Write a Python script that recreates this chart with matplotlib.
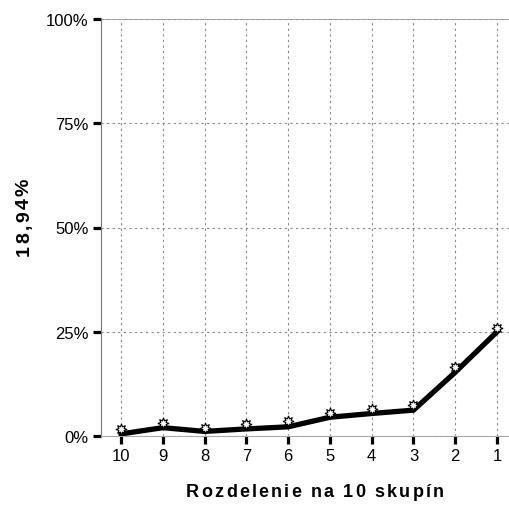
import numpy as np
import matplotlib.pyplot as plt
from matplotlib.font_manager import FontProperties

plt.rcParams['font.family'] = ['Liberation Sans', 'DejaVu Sans']

# groups (descending order as in the chart)
groups = ['10', '9', '8', '7', '6', '5', '4', '3', '2', '1']
line_vals = [0.5, 2.0, 1.1, 1.7, 2.2, 4.5, 5.4, 6.2, 15.3, 25.0]
marker_vals = [1.7, 3.2, 2.0, 2.8, 3.5, 5.6, 6.5, 7.4, 16.6, 26.0]
yticks = [0, 25, 50, 75, 100]
ytick_labels = ['0%', '25%', '50%', '75%', '100%']
xlabel = 'Rozdelenie na 10 skupín'
ylabel = '18,94%'

W, H = 510, 506
fig = plt.figure(figsize=(W / 100, H / 100), dpi=100)
ax = fig.add_axes([101 / W, 1 - 437 / H, 409 / W, 417 / H])

x = np.arange(len(groups))
ax.plot(x, line_vals, color='black', lw=3.8, solid_joinstyle='miter', zorder=3)
ax.plot(x, marker_vals, ls='none', marker=(8, 1, 0), ms=8, mfc='white',
        mec='black', mew=0.8, zorder=4)

ax.set_xlim(-0.48, 9.31)
ax.set_ylim(0, 100)
ax.set_xticks(x)
ax.set_xticklabels(groups)
ax.set_yticks(yticks)
ax.set_yticklabels(ytick_labels)

ax.grid(True, ls=(0, (2, 3)), color='#888888', lw=0.8)
ax.set_axisbelow(True)
for s in ['top', 'right']:
    ax.spines[s].set_visible(False)
ax.spines['left'].set_color('#777777')
ax.spines['bottom'].set_color('#aaaaaa')
ax.axhline(100, color='#999999', lw=1.2, zorder=1)
ax.tick_params(axis='both', length=5.8, width=2.3, color='black', labelsize=12,
               pad=3)


# bold labels with extra letter spacing, drawn char by char
def spaced_text(cx, cy, s, size, track, rotation=0):
    fp = FontProperties(family='Liberation Sans', weight='bold', size=size)
    r = fig.canvas.get_renderer()
    wl = r.get_text_width_height_descent('l', fp, ismath=False)[0]
    offs = []
    for i in range(len(s)):
        w = r.get_text_width_height_descent(s[:i] + 'l', fp, ismath=False)[0]
        offs.append(w - wl + i * track)
    total = r.get_text_width_height_descent(s, fp, ismath=False)[0] \
        + (len(s) - 1) * track
    for ch, o in zip(s, offs):
        d = o - total / 2
        if rotation == 90:
            px, py = cx, cy + d
        else:
            px, py = cx + d, cy
        fig.text(px / W, py / H, ch, fontproperties=fp, rotation=rotation,
                 rotation_mode='anchor', ha='left', va='baseline')


spaced_text(315, H - 497, xlabel, 13, 2.2)
spaced_text(29, H - 217, ylabel, 14, 2.2, rotation=90)

fig.savefig('out.png', dpi=100)
